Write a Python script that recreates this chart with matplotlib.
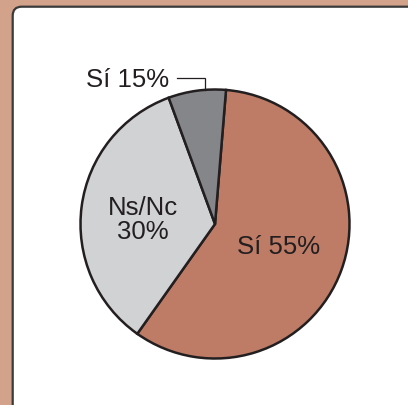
import matplotlib
matplotlib.use("Agg")
import matplotlib.pyplot as plt
from matplotlib.patches import FancyBboxPatch

# Data (wedge sizes; labels as printed)
labels = ["Sí 55%", "Ns/Nc\n30%", "Sí 15%"]
sizes = [58.5, 34.6, 6.9]
colors = ["#BE7C66", "#D1D2D4", "#858689"]

W, H = 408, 405
fig = plt.figure(figsize=(W / 100, H / 100), dpi=100)
fig.patch.set_facecolor("#D3A28B")
ax = fig.add_axes([0, 0, 1, 1])
ax.set_xlim(0, W)
ax.set_ylim(0, H)
ax.set_aspect("equal")
ax.axis("off")

panel = FancyBboxPatch((12.7, -30), 450, 405 - 6.7 + 30,
                       boxstyle="round,pad=0,rounding_size=9",
                       facecolor="white", edgecolor="#3A3A3A", linewidth=1.6)
ax.add_patch(panel)

cx, cy, r = 215, H - 224, 134.5
ax.pie(sizes, colors=colors, startangle=85.3, counterclock=False,
       center=(cx, cy), radius=r, frame=True,
       wedgeprops=dict(edgecolor="#231F20", linewidth=1.8))
ax.set_xlim(0, W)
ax.set_ylim(0, H)
ax.axis("off")

fs = 18.5
tc = "#231F20"
fam = ["Liberation Sans", "DejaVu Sans"]
ax.text(279, H - 247, labels[0], ha="center", va="center", fontsize=fs, color=tc, family=fam)
ax.text(143, H - 220, labels[1], ha="center", va="center", fontsize=fs, color=tc,
        family=fam, linespacing=1.0)
ax.text(127.5, H - 80, labels[2], ha="center", va="center", fontsize=fs, color=tc, family=fam)
ax.plot([177, 205, 205], [H - 77.7, H - 77.7, H - 89.5], color=tc, linewidth=0.9,
        solid_joinstyle="miter")

fig.savefig("out.png", dpi=100, facecolor=fig.get_facecolor())
